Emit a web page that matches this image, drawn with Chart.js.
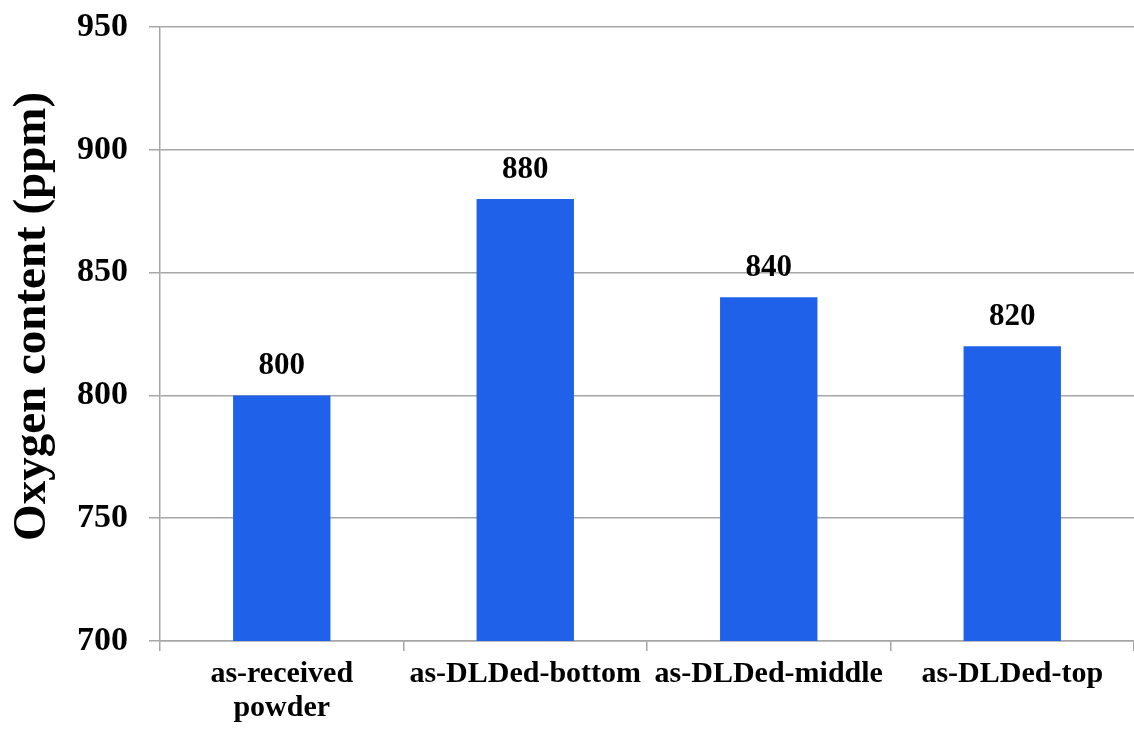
<!DOCTYPE html>
<html>
<head>
<meta charset="utf-8">
<script src="https://cdn.jsdelivr.net/npm/chart.js@4/dist/chart.umd.min.js"></script>
<style>
  html, body { margin: 0; padding: 0; background: #fff; }
  #wrap { width: 1134px; height: 731px; }
</style>
</head>
<body>
<div id="wrap"><canvas id="myChart"></canvas></div>
<script>
const labels = [["as-received", "powder"], "as-DLDed-bottom", "as-DLDed-middle", "as-DLDed-top"];
const oxygen = [800, 880, 840, 820];
const yTicks = [700, 750, 800, 850, 900, 950];

const serif = "'Liberation Serif', 'Times New Roman', serif";
const gridColor = "#a6a6a6";

// value labels above each bar
const barValues = {
    id: "barValues",
    afterDatasetsDraw(chart) {
        const ctx = chart.ctx;
        const meta = chart.getDatasetMeta(0);
        ctx.save();
        ctx.font = "bold 31px " + serif;
        ctx.fillStyle = "#000";
        ctx.textAlign = "center";
        ctx.textBaseline = "alphabetic";
        meta.data.forEach((bar, i) => {
            ctx.fillText(String(oxygen[i]), bar.x, bar.y - 21);
        });
        ctx.restore();
    },
};

const config = {
    type: "bar",
    data: {
        labels: labels,
        datasets: [{
            data: oxygen,
            backgroundColor: "#1f62e9",
            barPercentage: 0.8,
            categoryPercentage: 0.5,
        }],
    },
    options: {
        responsive: true,
        maintainAspectRatio: false,
        animation: false,
        layout: { padding: { top: 27, right: 0, left: 5, bottom: 2 } },
        plugins: {
            legend: { display: false },
            tooltip: { enabled: false },
        },
        scales: {
            x: {
                afterFit: (axis) => {
                    axis.paddingLeft = 0;
                    axis.paddingRight = 0;
                    axis.height = 88;
                },
                border: { color: gridColor, width: 1.5 },
                grid: {
                    drawOnChartArea: false,
                    color: gridColor,
                    tickLength: 10,
                    lineWidth: 1.5,
                },
                ticks: {
                    color: "#000",
                    autoSkip: false,
                    maxRotation: 0,
                    padding: 6,
                    font: { family: serif, weight: "bold", size: 30, lineHeight: 1.13 },
                },
            },
            y: {
                min: 700,
                max: 950,
                afterBuildTicks: (axis) => {
                    axis.ticks = yTicks.map((v) => ({ value: v }));
                },
                afterFit: (axis) => {
                    axis.paddingTop = 0;
                    axis.paddingBottom = 0;
                    axis.width = 155;
                },
                border: { color: gridColor, width: 1.5 },
                grid: {
                    color: gridColor,
                    tickLength: 11,
                    lineWidth: 1.5,
                },
                ticks: {
                    color: "#000",
                    padding: 21,
                    font: { family: serif, weight: "bold", size: 34 },
                },
                title: {
                    display: true,
                    // leading spaces nudge the rotated title up a little
                    text: "   Oxygen content (ppm)",
                    color: "#000",
                    padding: { top: 0, bottom: 12 },
                    font: { family: serif, weight: "bold", size: 47 },
                },
            },
        },
    },
    plugins: [barValues],
};

const ctx = document.getElementById("myChart").getContext("2d");
const oxygenChart = new Chart(ctx, config);
</script>
</body>
</html>
